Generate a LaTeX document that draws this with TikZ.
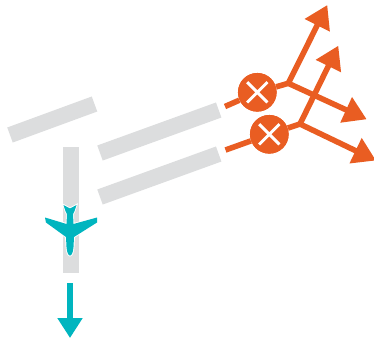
\documentclass[tikz,border=0pt]{standalone}
\usepackage{xcolor}
\usetikzlibrary{arrows.meta,shapes.misc}
\definecolor{runwaygray}{HTML}{DCDDDE}
\definecolor{failorange}{HTML}{E95D22}
\definecolor{planeteal}{HTML}{00B5BF}

\tikzset{
  runway/.style={draw=runwaygray,line width=12pt},
  wire/.style={draw=failorange,line width=4.2pt},
  wirearrow/.style={wire,-{Triangle[length=17pt,width=20pt]}},
  failnode/.style={circle,fill=failorange,minimum size=29pt,inner sep=0pt},
  failmark/.style={cross out,draw=white,line width=2.2pt,minimum size=13pt,inner sep=0pt},
}

\begin{document}
\begin{tikzpicture}[x=0.75pt,y=-0.75pt]
  \useasboundingbox (0,0) rectangle (374,340);
  % runways
  \draw[runway] (10,135) -- (94.5,104);
  \draw[runway] (100,153) -- (218.7,110);
  \draw[runway] (100,197) -- (218.7,154);
  \draw[runway] (71,147) -- (71,273);
  % aircraft
  \path[preaction={draw=white,line width=1.4pt},fill=planeteal,line join=round]
    (70,208.5) -- (63.5,205) -- (65.5,211) -- (67,214) -- (66.5,224) -- (45,217.5) -- (46,222.5)
    -- (66,237) -- (66.5,247) .. controls (67,253) and (68.5,255.5) .. (70,255.5)
    .. controls (71.5,255.5) and (73,253) .. (73.5,247) -- (74,237) -- (97,222.5) -- (97,217.5)
    -- (73.5,224) -- (73,214) -- (74.5,211) -- (76.5,205) -- cycle;
  \coordinate (tealstart) at (70,283);
  \coordinate (tealend) at (70,338);
  \draw[line width=4.5pt,draw=planeteal,-{Triangle[length=15pt,width=18pt]}] (tealstart) -- (tealend);
  % failed lines
  \coordinate (in1) at (225,106.5);
  \coordinate (in2) at (225.5,150);
  \coordinate (elbow1) at (288.3,83.3);
  \coordinate (elbow2) at (300,124);
  \coordinate (up1) at (327.3,5);
  \coordinate (up2) at (338.3,45.7);
  \coordinate (out1) at (366.7,119.3);
  \coordinate (out2) at (376,160.5);
  \node[failnode] (fail1) at (257.3,92.3) {};
  \node[failnode] (fail2) at (269.3,134.3) {};
  \foreach \i in {1,2} {
    \draw[wire] (in\i) -- (fail\i) -- (elbow\i);
    \draw[wirearrow] (elbow\i) -- (up\i);
    \draw[wirearrow] (elbow\i) -- (out\i);
    \node[failnode] at (fail\i) {};
    \node[failmark] (mark\i) at (fail\i) {};
  }
\end{tikzpicture}
\end{document}
